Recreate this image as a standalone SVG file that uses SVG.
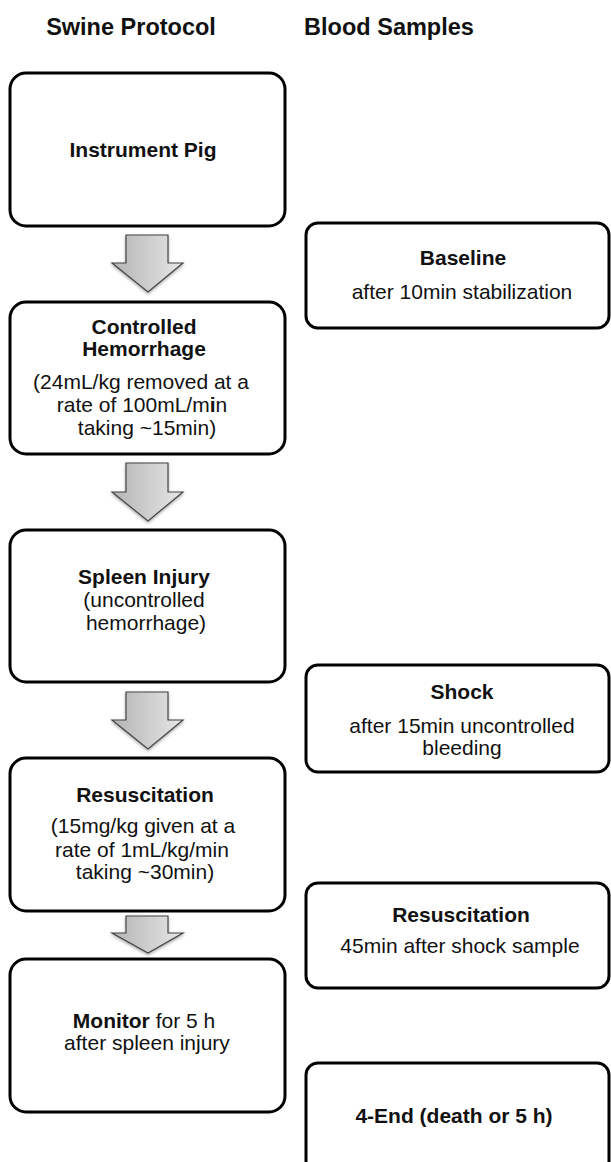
<svg xmlns="http://www.w3.org/2000/svg" width="611" height="1162" viewBox="0 0 611 1162">
<style>
.box{fill:#fff;stroke:#000;stroke-width:3}
.t{font-family:"Liberation Sans",Arial,sans-serif;font-size:21px;fill:#111;text-anchor:middle}
.b{font-weight:bold}
.h{font-family:"Liberation Sans",Arial,sans-serif;font-size:23.5px;font-weight:bold;fill:#111;text-anchor:middle}
.arr{fill:url(#g);stroke:#444;stroke-width:1.2;filter:url(#sh)}
</style>
<defs>
<linearGradient id="g" x1="0" y1="0" x2="1" y2="0">
<stop offset="0" stop-color="#b4b4b4"/>
<stop offset="1" stop-color="#e6e6e6"/>
</linearGradient>
<filter id="sh" x="-20%" y="-20%" width="140%" height="140%">
<feDropShadow dx="0" dy="1.5" stdDeviation="1.5" flood-color="#000" flood-opacity="0.35"/>
</filter>
</defs>
<text class="h" x="131" y="35">Swine Protocol</text>
<text class="h" x="389" y="35">Blood Samples</text>
<g id="connectors">
<path class="arr" d="M126,235 H168 V263 H183 L148,292 L112,263 H126 Z"/>
<path class="arr" d="M126,463 H168 V492 H183 L148,521 L112,492 H126 Z"/>
<path class="arr" d="M126,692 H168 V720 H183 L148,749 L112,720 H126 Z"/>
<path class="arr" d="M126,916 H168 V933 H183 L148,953 L112,933 H126 Z"/>
</g>
<g id="instrument">
<rect class="box" x="10" y="73" width="275" height="153" rx="16"/>
<text class="t b" x="143" y="157">Instrument Pig</text>
</g>
<g id="controlled">
<rect class="box" x="10" y="302" width="275" height="152" rx="16"/>
<text class="t b" x="144" y="334">Controlled</text>
<text class="t b" x="144" y="356">Hemorrhage</text>
<text class="t" x="141" y="389">(24mL/kg removed at a</text>
<text class="t" x="142" y="412">rate of 100mL/m<tspan font-weight="bold">i</tspan>n</text>
<text class="t" x="147" y="435">taking ~15min)</text>
</g>
<g id="spleen">
<rect class="box" x="10" y="530" width="275" height="152" rx="16"/>
<text class="t b" x="144" y="584">Spleen Injury</text>
<text class="t" x="144" y="607">(uncontrolled</text>
<text class="t" x="146" y="630">hemorrhage)</text>
</g>
<g id="resus">
<rect class="box" x="10" y="758" width="275" height="153" rx="16"/>
<text class="t b" x="145" y="802">Resuscitation</text>
<text class="t" x="143" y="833">(15mg/kg given at a</text>
<text class="t" x="142" y="857">rate of 1mL/kg/min</text>
<text class="t" x="145" y="879">taking ~30min)</text>
</g>
<g id="monitor">
<rect class="box" x="10" y="959" width="275" height="153" rx="16"/>
<text class="t" x="144" y="1028"><tspan font-weight="bold">Monitor</tspan> for 5 h</text>
<text class="t" x="147" y="1050">after spleen injury</text>
</g>
<g id="baseline">
<rect class="box" x="306" y="223" width="303" height="105" rx="12"/>
<text class="t b" x="463" y="265">Baseline</text>
<text class="t" x="462" y="299">after 10min stabilization</text>
</g>
<g id="shock">
<rect class="box" x="306" y="665" width="303" height="107" rx="12"/>
<text class="t b" x="462" y="699">Shock</text>
<text class="t" x="462" y="733">after 15min uncontrolled</text>
<text class="t" x="462" y="755">bleeding</text>
</g>
<g id="resus-sample">
<rect class="box" x="306" y="883" width="303" height="105" rx="12"/>
<text class="t b" x="461" y="922">Resuscitation</text>
<text class="t" x="460" y="953">45min after shock sample</text>
</g>
<g id="end">
<rect class="box" x="306" y="1063" width="303" height="130" rx="12"/>
<text class="t b" x="454" y="1123">4-End (death or 5 h)</text>
</g>
</svg>
